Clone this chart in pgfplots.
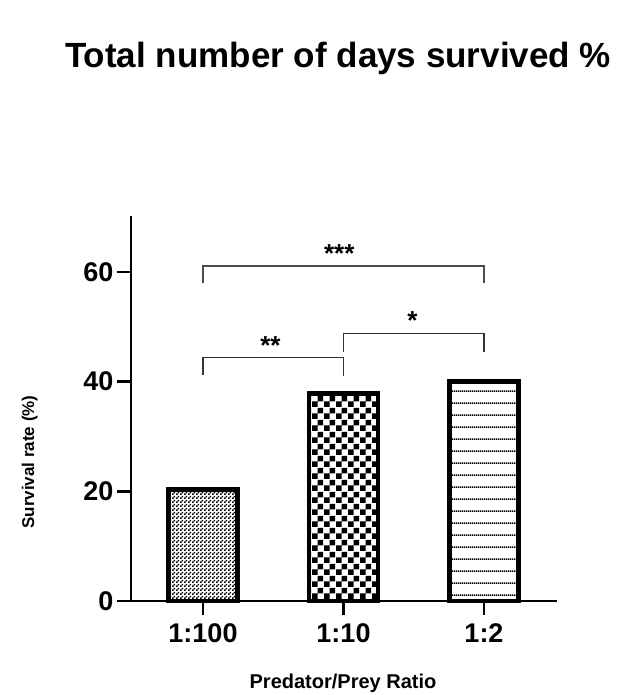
\documentclass[border=0pt]{standalone}
\usepackage{pgfplots}
\pgfplotsset{compat=1.18}
\usepackage{fontspec}
\setmainfont{Liberation Sans}
\usetikzlibrary{patterns}

\pgfdeclarepatternformonly{finecheck}{\pgfpointorigin}{\pgfpoint{4pt}{4pt}}{\pgfpoint{4pt}{4pt}}{%
  \pgfpathrectangle{\pgfpointorigin}{\pgfpoint{2pt}{2pt}}%
  \pgfpathrectangle{\pgfpoint{2pt}{2pt}}{\pgfpoint{2pt}{2pt}}%
  \pgfusepath{fill}}
\pgfdeclarepatternformonly{medcheck}{\pgfpointorigin}{\pgfpoint{12pt}{12pt}}{\pgfpoint{12pt}{12pt}}{%
  \pgfpathrectangle{\pgfpointorigin}{\pgfpoint{6pt}{6pt}}%
  \pgfpathrectangle{\pgfpoint{6pt}{6pt}}{\pgfpoint{6pt}{6pt}}%
  \pgfusepath{fill}}
\pgfdeclarepatternformonly{hlinesw}{\pgfpointorigin}{\pgfpoint{2pt}{11.8pt}}{\pgfpoint{2pt}{11.8pt}}{%
  \pgfpathrectangle{\pgfpoint{0pt}{5.2pt}}{\pgfpoint{2pt}{1.4pt}}%
  \pgfusepath{fill}}

\begin{document}
\begin{tikzpicture}
\path[use as bounding box] (0,0) rectangle (632pt,-695pt);
\begin{axis}[
  at={(131pt,-601pt)}, anchor=south west,
  scale only axis,
  width=425pt, height=383.8pt,
  xmin=-0.5125, xmax=2.5125,
  ymin=0, ymax=70,
  axis x line*=bottom, axis y line*=left,
  axis line style={line width=2.6pt, black, line cap=rect},
  tick style={line width=2.6pt, black},
  tick align=outside,
  major tick length=14pt,
  xtick={0,1,2},
  xticklabels={1:100,1:10,1:2},
  ytick={0,20,40,60},
  /pgf/number format/assume math mode=true,
  ticklabel style={font=\fontsize{27}{30}\selectfont\bfseries},
  xticklabel style={yshift=-5pt},
  clip=false,
]
\addplot[ybar, bar shift=0pt, bar width=0.49, draw=black, line width=4.8pt, line join=miter, pattern=finecheck, pattern color=black]
  coordinates {(0,20.4)};
\addplot[ybar, bar shift=0pt, bar width=0.49, draw=black, line width=4.8pt, line join=miter, pattern=medcheck]
  coordinates {(1,37.8)};
\addplot[ybar, bar shift=0pt, bar width=0.49, draw=black, line width=4.8pt, line join=miter, pattern=hlinesw, pattern color=black]
  coordinates {(2,40.1)};
% significance brackets
\addplot[black!70, line width=1.6pt, no markers] coordinates {(0,58.0) (0,61.1) (2,61.1) (2,58.0)};
\addplot[black!80, line width=1.6pt, no markers] coordinates {(0,41.2) (0,44.4) (1,44.4) (1,41.0)};
\addplot[black!80, line width=1.6pt, no markers] coordinates {(1,45.5) (1,48.8) (2,48.8) (2,45.5)};
\node[anchor=base, font=\fontsize{26}{28}\selectfont\bfseries] at (axis cs:0.97,61.8) {***};
\node[anchor=base, font=\fontsize{26}{28}\selectfont\bfseries] at (axis cs:0.48,45.0) {**};
\node[anchor=base, font=\fontsize{26}{28}\selectfont\bfseries] at (axis cs:1.49,49.6) {*};
\end{axis}
\node[anchor=base, font=\fontsize{35}{40}\selectfont\bfseries] at (338pt,-68pt) {Total number of days survived \%};
\node[anchor=base, font=\fontsize{20}{23}\selectfont\bfseries] at (343pt,-688pt) {Predator/Prey Ratio};
\node[anchor=base, rotate=90, font=\fontsize{17}{20}\selectfont\bfseries] at (34pt,-462pt) {Survival rate (\%)};
\end{tikzpicture}
\end{document}
